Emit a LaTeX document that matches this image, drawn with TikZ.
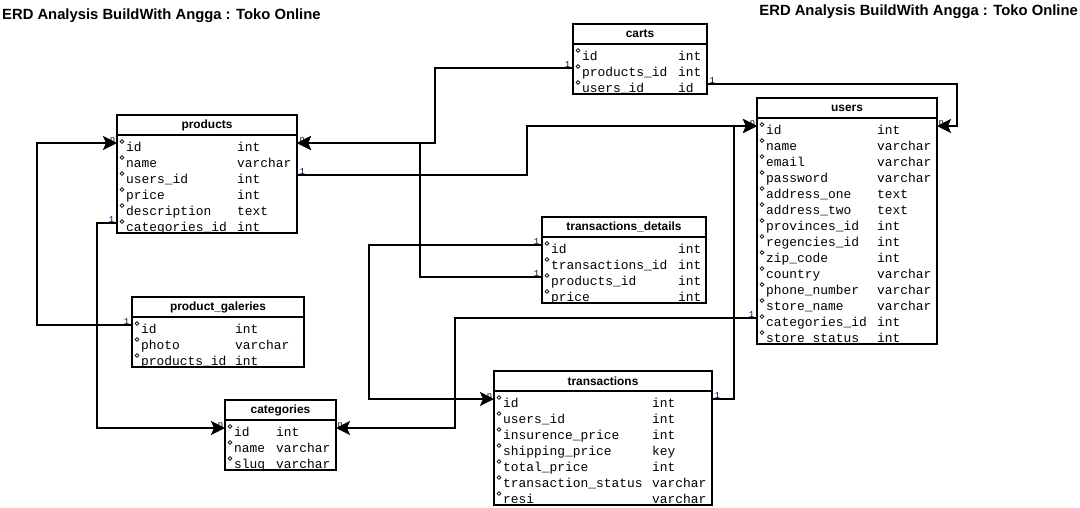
\documentclass[tikz,border=0pt]{standalone}
\usepackage{fontspec}
\usetikzlibrary{arrows.meta}
\newfontfamily\headfont{Liberation Sans}
\newfontfamily\rowfont{Liberation Mono}

% one table of the ERD: name, left, right, type column, first row, rows, title, fields
\newcommand{\erdtable}[8]{%
  \pgfmathsetmacro{\ttop}{#5-28}
  \pgfmathsetmacro{\tsep}{#5-8}
  \pgfmathsetmacro{\tw}{#3-#2}
  \pgfmathsetmacro{\thgt}{16*(#6-1)+38}
  \node[tablebox, minimum width=\tw pt, minimum height=\thgt pt, anchor=north west] (#1) at (#2,\ttop) {};
  \draw[tableline] (#2,\tsep) -- (#3,\tsep);
  \node[headtext] (#1-title) at ({(#2+#3)/2},\ttop+10) {#7};
  \foreach \fname/\ftype [count=\i] in {#8} {
    \pgfmathsetmacro{\ry}{#5+16*(\i-1)}
    \coordinate (#1-w\i) at (#2,\ry);
    \coordinate (#1-e\i) at (#3,\ry);
    \node[rowdot] (#1-dot\i) at (#2+5,\ry-1.5) {};
    \node[rowtext] (#1-name\i) at (#2+9,\ry+8) {\fname};
    \node[rowtext] (#1-type\i) at (#4,\ry+8) {\ftype};
  }
}

\begin{document}
\begin{tikzpicture}[x=1pt, y=-1pt,
  tablebox/.style={draw, line width=2pt, inner sep=0pt, outer sep=0pt, fill=white},
  tableline/.style={line width=2pt},
  headtext/.style={font=\headfont\bfseries\fontsize{11.9}{14}\selectfont, inner sep=0pt},
  rowtext/.style={font=\rowfont\fontsize{12.9}{14}\selectfont, anchor=base west, inner sep=0pt},
  rowdot/.style={circle, draw, line width=0.7pt, inner sep=0pt, minimum size=3.6pt},
  card/.style={font=\rowfont\fontsize{9}{9}\selectfont, inner sep=0.5pt, text=black!65!blue},
  rel/.style={line width=2pt, -{Stealth[length=14pt, width=14pt, inset=3pt]}}]
\fill[white] (0,0) rectangle (1080,507);
\useasboundingbox (0,0) rectangle (1080,507);

% Titles
\node[anchor=base west, inner sep=0pt, font=\headfont\bfseries\fontsize{14.8}{16}\selectfont] (titleleft) at (2,19) {ERD Analysis BuildWith Angga : Toko Online};
\node[anchor=base east, inner sep=0pt, font=\headfont\bfseries\fontsize{14.8}{16}\selectfont] (titleright) at (1078,15) {ERD Analysis BuildWith Angga : Toko Online};

% Draw the tables
\erdtable{carts}{573}{707}{678}{52}{3}{carts}{id/int, products\_id/int, users\_id/id}
\erdtable{products}{117}{297}{237}{143}{6}{products}{id/int, name/varchar, users\_id/int, price/int, description/text, categories\_id/int}
\erdtable{users}{757}{937}{877}{126}{14}{users}{id/int, name/varchar, email/varchar, password/varchar, address\_one/text, address\_two/text, provinces\_id/int, regencies\_id/int, zip\_code/int, country/varchar, phone\_number/varchar, store\_name/varchar, categories\_id/int, store status/int}
\erdtable{tdet}{542}{706}{678}{245}{4}{transactions\_details}{id/int, transactions\_id/int, products\_id/int, price/int}
\erdtable{gal}{132}{304}{235}{325}{3}{product\_galeries}{id/int, photo/varchar, products\_id/int}
\erdtable{cats}{225}{336}{276}{428}{3}{categories}{id/int, name/varchar, slug/varchar}
\erdtable{trans}{494}{712}{652}{399}{7}{transactions}{id/int, users\_id/int, insurence\_price/int, shipping\_price/key, total\_price/int, transaction\_status/varchar, resi/varchar}

% Cardinality labels
\node[card, anchor=south east] (c1a) at ([xshift=-2pt]carts-w2) {1};
\node[card, anchor=south west] (c1b) at ([xshift=2pt]products-e1) {n};
\node[card, anchor=south east] (c2a) at ([xshift=-2pt]tdet-w3) {1};
\node[card, anchor=south west] (c3a) at ([xshift=2pt]products-e3) {1};
\node[card, anchor=south east] (c3b) at ([xshift=-1pt]users-w1) {n};
\node[card, anchor=south west] (c4a) at ([xshift=2pt]trans-e1) {1};
\node[card, anchor=south west] (c5a) at ([xshift=2pt]carts-e3) {1};
\node[card, anchor=south west] (c5b) at ([xshift=1pt]users-e1) {n};
\node[card, anchor=south east] (c6a) at ([xshift=-2pt]users-w13) {1};
\node[card, anchor=south west] (c6b) at ([xshift=1pt]cats-e1) {n};
\node[card, anchor=south east] (c7a) at ([xshift=-2pt]tdet-w1) {1};
\node[card, anchor=south east] (c7b) at ([xshift=-1pt]trans-w1) {n};
\node[card, anchor=south east] (c8a) at ([xshift=-2pt]gal-w1) {1};
\node[card, anchor=south east] (c8b) at ([xshift=-1pt]products-w1) {n};
\node[card, anchor=south east] (c9a) at ([xshift=-2pt]products-w6) {1};
\node[card, anchor=south east] (c9b) at ([xshift=-1pt]cats-w1) {n};

% Draw the relations
\draw[rel] (carts-w2) -- ++(-138,0) |- (products-e1);
\draw[rel] (tdet-w3) -- ++(-122,0) |- (products-e1);
\draw[rel] (products-e3) -- ++(230,0) |- (users-w1);
\draw[rel] (trans-e1) -- ++(22,0) |- (users-w1);
\draw[rel] (carts-e3) -- ++(250,0) |- (users-e1);
\draw[rel] (users-w13) -- ++(-302,0) |- (cats-e1);
\draw[rel] (tdet-w1) -- ++(-173,0) |- (trans-w1);
\draw[rel] (gal-w1) -- ++(-95,0) |- (products-w1);
\draw[rel] (products-w6) -- ++(-20,0) |- (cats-w1);
\end{tikzpicture}
\end{document}
